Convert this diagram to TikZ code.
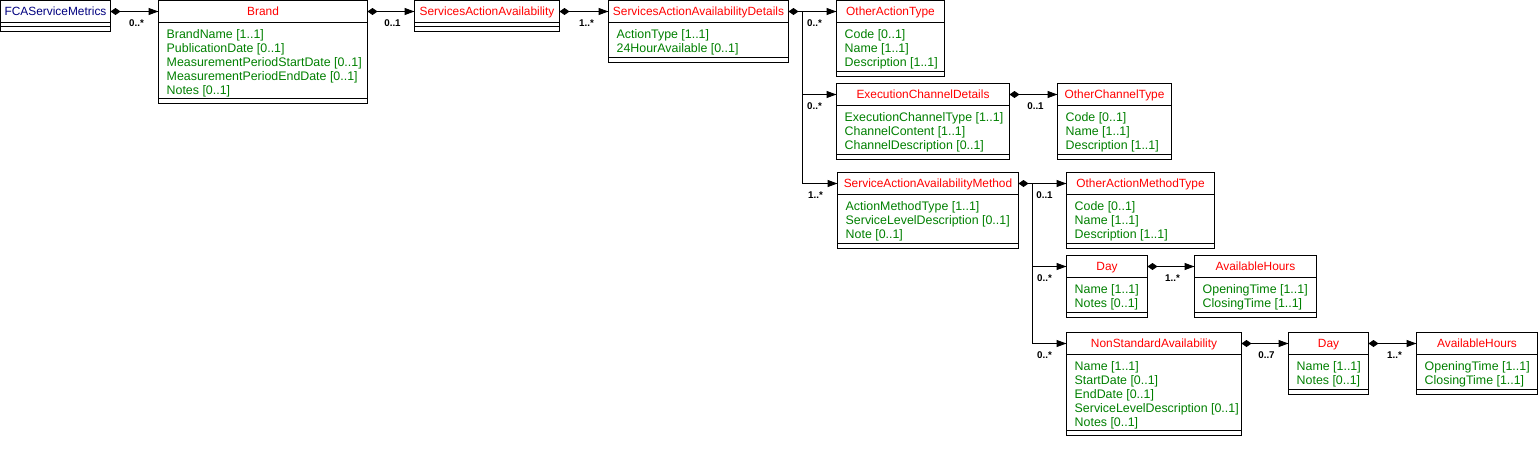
\documentclass[tikz,border=0pt]{standalone}
\usepackage{fontspec}
\setmainfont{Liberation Sans}
\usepackage{tikz}
\usetikzlibrary{calc,arrows.meta}
\definecolor{clsred}{HTML}{FF0000}
\definecolor{rootblue}{HTML}{000080}
\definecolor{attrgreen}{HTML}{008000}
\tikzset{
  box/.style={draw=black, line width=1pt, inner sep=0pt, outer sep=0pt, anchor=north west},
  rule/.style={draw=black, line width=1pt},
  title/.style={anchor=base, inner sep=0pt, font=\fontsize{11.9}{14}\selectfont},
  attr/.style={anchor=base west, inner sep=0pt, text=attrgreen, font=\fontsize{12.4}{14}\selectfont},
  mult/.style={anchor=base, inner sep=0pt, font=\fontsize{9.8}{10}\selectfont\bfseries},
  link/.style={draw=black, line width=1pt, {Diamond[length=10pt,width=7pt]}-{Triangle[length=10pt,width=7pt]}},
  branch/.style={draw=black, line width=1pt, -{Triangle[length=10pt,width=7pt]}},
}
% #1 colour, #2 name, #3 x,y of top left, #4 width, #5 height, #6 title, #7 attributes
\newcommand{\umlclass}[7][clsred]{%
  \node[box, minimum width=#4, minimum height=#5] (#2) at (#3) {};
  \draw[rule] ($(#2.north west)+(0,-22)$) -- ($(#2.north east)+(0,-22)$);
  \draw[rule] ($(#2.south west)+(0,5)$) -- ($(#2.south east)+(0,5)$);
  \node[title, text=#1] (#2-t) at ($(#2.north)+(0,-15)$) {#6};
  \coordinate (#2-in) at ($(#2.north west)+(0,-11)$);
  \coordinate (#2-out) at ($(#2.north east)+(0,-11)$);
  \foreach \a [count=\i] in {#7}
    \node[attr] (#2-a\i) at ($(#2.north west)+(8,-24-14*\i)$) {\a};
}

\begin{document}
\begin{tikzpicture}[x=1pt,y=1pt]
  \fill[white] (-0.5,0.5) rectangle (1537.5,-473.5);
  \useasboundingbox (-0.5,0.5) rectangle (1537.5,-473.5);

  \umlclass[rootblue]{fca}{0,0}{110}{31}{FCAServiceMetrics}{}
  \umlclass{brand}{158,0}{209}{103}{Brand}{BrandName [1..1], PublicationDate [0..1],
    MeasurementPeriodStartDate [0..1], MeasurementPeriodEndDate [0..1], Notes [0..1]}
  \umlclass{saa}{414,0}{145}{31}{ServicesActionAvailability}{}
  \umlclass{saad}{608,0}{180}{62}{ServicesActionAvailabilityDetails}{ActionType [1..1], 24HourAvailable [0..1]}
  \umlclass{oat}{836,0}{108}{76}{OtherActionType}{Code [0..1], Name [1..1], Description [1..1]}
  \umlclass{ecd}{836,-83}{173}{76}{ExecutionChannelDetails}{ExecutionChannelType [1..1],
    ChannelContent [1..1], ChannelDescription [0..1]}
  \umlclass{oct}{1057,-83}{114}{76}{OtherChannelType}{Code [0..1], Name [1..1], Description [1..1]}
  \umlclass{sam}{837,-172}{181}{76}{ServiceActionAvailabilityMethod}{ActionMethodType [1..1],
    ServiceLevelDescription [0..1], Note [0..1]}
  \umlclass{oamt}{1066,-172}{148}{76}{OtherActionMethodType}{Code [0..1], Name [1..1], Description [1..1]}
  \umlclass{day1}{1066,-255}{81}{62}{Day}{Name [1..1], Notes [0..1]}
  \umlclass{ah1}{1194,-255}{122}{62}{AvailableHours}{OpeningTime [1..1], ClosingTime [1..1]}
  \umlclass{nsa}{1066,-332}{175}{103}{NonStandardAvailability}{Name [1..1], StartDate [0..1],
    EndDate [0..1], ServiceLevelDescription [0..1], Notes [0..1]}
  \umlclass{day2}{1288,-332}{80}{62}{Day}{Name [1..1], Notes [0..1]}
  \umlclass{ah2}{1416,-332}{121}{62}{AvailableHours}{OpeningTime [1..1], ClosingTime [1..1]}

  % junctions of the branching links
  \coordinate (j1) at ($(saad-out)+(14,0)$);
  \coordinate (j2) at ($(sam-out)+(14,0)$);

  \draw[link] (fca-out) -- (brand-in);
  \draw[link] (brand-out) -- (saa-in);
  \draw[link] (saa-out) -- (saad-in);
  \draw[link] (saad-out) -- (oat-in);
  \draw[branch] (j1) |- (ecd-in);
  \draw[branch] (j1) |- (sam-in);
  \draw[link] (ecd-out) -- (oct-in);
  \draw[link] (sam-out) -- (oamt-in);
  \draw[branch] (j2) |- (day1-in);
  \draw[branch] (j2) |- (nsa-in);
  \draw[link] (day1-out) -- (ah1-in);
  \draw[link] (nsa-out) -- (day2-in);
  \draw[link] (day2-out) -- (ah2-in);

  \foreach \t/\m in {brand/0..*, saa/0..1, saad/1..*, oat/0..*, ecd/0..*, sam/1..*, oct/0..1,
    oamt/0..1, day1/0..*, nsa/0..*, ah1/1..*, day2/0..7, ah2/1..*}
    \node[mult] (m-\t) at ($(\t-in)+(-22,-15)$) {\m};
\end{tikzpicture}
\end{document}
